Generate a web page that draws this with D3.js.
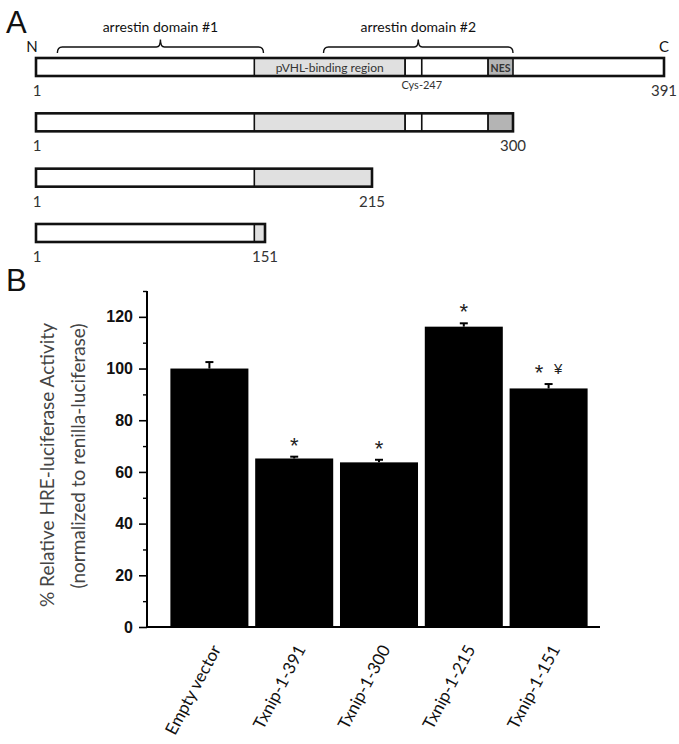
<!DOCTYPE html>
<html><head><meta charset="utf-8">
<script src="https://cdn.jsdelivr.net/npm/d3@7"></script>
<style>body{margin:0;background:#fff} svg{display:block}</style>
</head><body>
<svg id="chart" width="679" height="744"></svg>
<script>
// ---------- Panel A data ----------
const constructs = ["Txnip-1-391", "Txnip-1-300", "Txnip-1-215", "Txnip-1-151"];
const constructEnds = [391, 300, 215, 151];
const constructStart = 1;
const domainNames = ["arrestin domain #1", "arrestin domain #2"];
const domainStarts = [15, 186];
const domainEnds = [150, 300];
const regionNames = ["pVHL-binding region", "", "", "NES"];
const regionKinds = ["pvhl", "cys", "plain", "nes"];
const regionStarts = [144, 235, 245, 285];
const regionEnds = [235, 245, 285, 300];
const cysLabel = "Cys-247";
// ---------- Panel B data ----------
const categories = ["Empty vector", "Txnip-1-391", "Txnip-1-300", "Txnip-1-215", "Txnip-1-151"];
const values = [100, 65.2, 63.7, 116.2, 92.3];
const errors = [2.5, 0.7, 1.0, 1.3, 1.7];
const marks = ["", "*", "*", "*", "* ¥"];
const yTicks = [0, 20, 40, 60, 80, 100, 120];
const yMinorTicks = [10, 30, 50, 70, 90, 110, 130];
const yTitle = ["% Relative HRE-luciferase Activity", "(normalized to renilla-luciferase)"];

const svg = d3.select("#chart");
const txtFont = "Lato, 'Open Sans', sans-serif";
const arial = "'Liberation Sans', Arial, sans-serif";
const fills = {pvhl: "#e0e0e0", cys: "#ffffff", plain: "#ffffff", nes: "#b4b4b4"};

// ---------- Panel A ----------
svg.append("text").attr("x", 6).attr("y", 33).text("A")
  .attr("font-family", arial).attr("font-size", 31).attr("fill", "#111");

const xA = d3.scaleLinear().domain([1, 151, 215, 300, 391]).range([36, 265, 372, 513, 664]);
const yRow = d3.scalePoint().domain(constructs).range([58, 224]);
const rowH = 18;

const gA = svg.append("g");
const bTop = 47, bEnd = 53, bPeak = 39.5;
domainNames.forEach((name, i) => {
  const x0 = xA(domainStarts[i]), x1 = xA(domainEnds[i]), m = (x0 + x1) / 2;
  const p = d3.path();
  p.moveTo(x0, bEnd);
  p.quadraticCurveTo(x0, bTop, x0 + 5, bTop);
  p.lineTo(m - 4, bTop);
  p.quadraticCurveTo(m, bTop, m, bPeak);
  p.quadraticCurveTo(m, bTop, m + 4, bTop);
  p.lineTo(x1 - 5, bTop);
  p.quadraticCurveTo(x1, bTop, x1, bEnd);
  gA.append("path").attr("d", p.toString()).attr("fill", "none").attr("stroke", "#111").attr("stroke-width", 1.4);
  gA.append("text").attr("x", m).attr("y", 32).attr("text-anchor", "middle")
    .attr("font-family", txtFont).attr("font-size", 14).attr("fill", "#111").text(name);
});
gA.append("text").attr("x", xA(constructStart) - 4).attr("y", 52).attr("text-anchor", "middle")
  .attr("font-family", txtFont).attr("font-size", 15).attr("fill", "#111").text("N");
gA.append("text").attr("x", xA(constructEnds[0])).attr("y", 52).attr("text-anchor", "middle")
  .attr("font-family", txtFont).attr("font-size", 15).attr("fill", "#111").text("C");

constructs.forEach((c, i) => {
  const end = constructEnds[i];
  const y0 = yRow(c);
  const g = gA.append("g");
  g.append("rect").attr("x", xA(constructStart)).attr("y", y0)
    .attr("width", xA(end) - xA(constructStart)).attr("height", rowH).attr("fill", "#fff");
  regionStarts.forEach((s, j) => {
    if (s >= end) return;
    const e = Math.min(end, regionEnds[j]);
    g.append("rect").attr("x", xA(s)).attr("y", y0).attr("width", xA(e) - xA(s)).attr("height", rowH)
      .attr("fill", fills[regionKinds[j]]);
    g.append("line").attr("x1", xA(s)).attr("x2", xA(s)).attr("y1", y0).attr("y2", y0 + rowH)
      .attr("stroke", "#111").attr("stroke-width", 1.6);
    if (regionEnds[j] < end) {
      g.append("line").attr("x1", xA(regionEnds[j])).attr("x2", xA(regionEnds[j])).attr("y1", y0).attr("y2", y0 + rowH)
        .attr("stroke", "#111").attr("stroke-width", 1.6);
    }
    if (i === 0 && regionNames[j]) {
      const isNes = regionKinds[j] === "nes";
      g.append("text").attr("x", (xA(s) + xA(e)) / 2).attr("y", y0 + 13.5).attr("text-anchor", "middle")
        .attr("font-family", txtFont).attr("font-size", isNes ? 10.5 : 12)
        .attr("font-weight", isNes ? "bold" : "normal").attr("fill", "#333").text(regionNames[j]);
    }
  });
  g.append("rect").attr("x", xA(constructStart)).attr("y", y0)
    .attr("width", xA(end) - xA(constructStart)).attr("height", rowH)
    .attr("fill", "none").attr("stroke", "#111").attr("stroke-width", 2.6);
  g.append("text").attr("x", xA(constructStart) + 1).attr("y", y0 + rowH + 20).attr("text-anchor", "middle")
    .attr("font-family", txtFont).attr("font-size", 15).attr("fill", "#333").text(constructStart);
  g.append("text").attr("x", xA(end)).attr("y", y0 + rowH + 20).attr("text-anchor", "middle")
    .attr("font-family", txtFont).attr("font-size", 15).attr("fill", "#333").text(end);
  if (i === 0) {
    g.append("text").attr("x", xA(regionEnds[1])).attr("y", y0 + rowH + 13).attr("text-anchor", "middle")
      .attr("font-family", txtFont).attr("font-size", 11).attr("fill", "#333").text(cysLabel);
  }
});

// ---------- Panel B ----------
svg.append("text").attr("x", 6).attr("y", 291).text("B")
  .attr("font-family", arial).attr("font-size", 31).attr("fill", "#111");

const axX = 147;
const xB = d3.scaleBand().domain(categories).range([167, 591]).paddingInner(0.08).paddingOuter(0.04);
const yB = d3.scaleLinear().domain([0, 130]).range([627, 291]);
const gB = svg.append("g");

gB.selectAll("rect.bar").data(categories).join("rect").attr("class", "bar")
  .attr("x", d => xB(d)).attr("width", xB.bandwidth())
  .attr("y", (d, i) => yB(values[i])).attr("height", (d, i) => yB(0) - yB(values[i]))
  .attr("fill", "#000");
categories.forEach((d, i) => {
  const cx = xB(d) + xB.bandwidth() / 2;
  const yt = yB(values[i] + errors[i]);
  gB.append("line").attr("x1", cx).attr("x2", cx).attr("y1", yB(values[i])).attr("y2", yt)
    .attr("stroke", "#000").attr("stroke-width", 2);
  gB.append("line").attr("x1", cx - 4).attr("x2", cx + 4).attr("y1", yt).attr("y2", yt)
    .attr("stroke", "#000").attr("stroke-width", 2);
  if (marks[i]) {
    const toks = marks[i].split(" ");
    toks.forEach((t, k) => {
      const tx = cx + (k - (toks.length - 1) / 2) * 19;
      const star = t === "*";
      gB.append("text").attr("x", tx).attr("y", star ? yt - 4 : yt - 10.5).attr("text-anchor", "middle")
        .attr("font-family", arial).attr("font-size", star ? 22 : 15).attr("fill", "#222").text(t);
    });
  }
});

const yAxis = gB.append("g").attr("transform", `translate(${axX},0)`)
  .call(d3.axisLeft(yB).tickValues(yTicks).tickSizeInner(8).tickSizeOuter(0).tickPadding(6));
yAxis.select(".domain").remove();
yAxis.selectAll(".tick line").attr("stroke", "#000").attr("stroke-width", 1.6);
yAxis.selectAll(".tick text").attr("font-family", arial)
  .attr("font-size", 16).attr("font-weight", "bold").attr("fill", "#111");
const yMinor = gB.append("g").attr("transform", `translate(${axX},0)`)
  .call(d3.axisLeft(yB).tickValues(yMinorTicks).tickSize(4).tickFormat(""));
yMinor.select(".domain").remove();
yMinor.selectAll(".tick line").attr("stroke", "#000").attr("stroke-width", 1.4);
gB.append("line").attr("x1", axX).attr("x2", axX).attr("y1", yB(0)).attr("y2", yB(130))
  .attr("stroke", "#000").attr("stroke-width", 2);
gB.append("line").attr("x1", axX - 1).attr("x2", xB.range()[1] + 9).attr("y1", yB(0)).attr("y2", yB(0))
  .attr("stroke", "#000").attr("stroke-width", 2);
categories.forEach(d => {
  const cx = xB(d) + xB.bandwidth() / 2;
  gB.append("text").attr("transform", `translate(${cx + 12},${yB(0) + 22}) rotate(-62)`)
    .attr("text-anchor", "end").attr("font-family", txtFont).attr("font-size", 17).attr("fill", "#111").text(d);
});
const yMid = (yB(0) + yB(130)) / 2;
gB.append("text").attr("transform", `translate(54,${yMid + 6}) rotate(-90)`).attr("text-anchor", "middle")
  .attr("font-family", txtFont).attr("font-size", 19).attr("fill", "#444").text(yTitle[0]);
gB.append("text").attr("transform", `translate(85,${yMid - 3}) rotate(-90)`).attr("text-anchor", "middle")
  .attr("font-family", txtFont).attr("font-size", 19).attr("fill", "#444").text(yTitle[1]);
</script>
</body></html>
